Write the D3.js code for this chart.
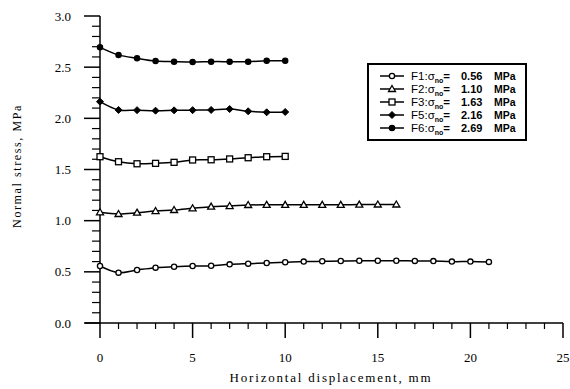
<!DOCTYPE html>
<html>
<head>
<meta charset="utf-8">
<script src="https://cdn.jsdelivr.net/npm/d3@7"></script>
<style>
  body { margin: 0; background: #fff; }
  svg { display: block; }
</style>
</head>
<body>
<svg width="570" height="389"></svg>
<script>
// data
const xF1 = d3.range(0, 22);
const yF1 = [0.557, 0.492, 0.518, 0.541, 0.55, 0.557, 0.56, 0.573, 0.58, 0.586, 0.593,
             0.600, 0.603, 0.606, 0.608, 0.608, 0.608, 0.607, 0.605, 0.600, 0.600, 0.597];
const xF2 = d3.range(0, 17);
const yF2 = [1.082, 1.065, 1.078, 1.094, 1.104, 1.121, 1.137, 1.143, 1.153, 1.155, 1.155,
             1.155, 1.155, 1.155, 1.157, 1.158, 1.158];
const xF3 = d3.range(0, 11);
const yF3 = [1.625, 1.576, 1.556, 1.56, 1.57, 1.593, 1.595, 1.603, 1.615, 1.625, 1.628];
const xF5 = d3.range(0, 11);
const yF5 = [2.163, 2.082, 2.08, 2.075, 2.078, 2.08, 2.082, 2.091, 2.069, 2.059, 2.062];
const xF6 = d3.range(0, 11);
const yF6 = [2.694, 2.62, 2.587, 2.56, 2.554, 2.55, 2.554, 2.554, 2.554, 2.563, 2.563];

const names = ["F1", "F2", "F3", "F5", "F6"];
const sigmas = ["0.56", "1.10", "1.63", "2.16", "2.69"];
const symbols = ["openCircle", "triangle", "square", "diamond", "filledCircle"];

const xTicks = [0, 5, 10, 15, 20, 25];
const yTicks = [0.0, 0.5, 1.0, 1.5, 2.0, 2.5, 3.0];

const series = [
  {xs: xF1, ys: yF1}, {xs: xF2, ys: yF2}, {xs: xF3, ys: yF3},
  {xs: xF5, ys: yF5}, {xs: xF6, ys: yF6}
];

let svg = d3.select("svg");
let g = svg.append("g");

let x = d3.scaleLinear().domain([0, 25]).range([100, 563]);
let y = d3.scaleLinear().domain([0, 3]).range([323, 16]);

const serif = "'Liberation Serif', 'DejaVu Serif', serif";
const sans = "'Liberation Sans', Arial, sans-serif";

// x axis
g.append("line").attr("x1", 85).attr("x2", x(25))
  .attr("y1", y(0)).attr("y2", y(0)).attr("stroke", "#000").attr("stroke-width", 1.5);
d3.range(0, 26).forEach(function(v) {
  let major = v % 5 === 0;
  g.append("line").attr("x1", x(v)).attr("x2", x(v))
    .attr("y1", y(0)).attr("y2", y(0) + (major ? 15 : 6))
    .attr("stroke", "#000").attr("stroke-width", major ? 1.5 : 1.2);
});
xTicks.forEach(function(v) {
  g.append("text").attr("x", x(v)).attr("y", 362)
    .attr("text-anchor", "middle")
    .style("font-family", serif).style("font-size", "13px")
    .text(v);
});

// y axis
g.append("line").attr("x1", x(0)).attr("x2", x(0))
  .attr("y1", y(3)).attr("y2", y(0)).attr("stroke", "#000").attr("stroke-width", 1.5);
d3.range(0, 31).forEach(function(i) {
  let v = i / 10;
  let major = i % 5 === 0;
  g.append("line").attr("x1", x(0) - (major ? 16 : 8)).attr("x2", x(0))
    .attr("y1", y(v)).attr("y2", y(v))
    .attr("stroke", "#000").attr("stroke-width", major ? 1.5 : 1.2);
});
yTicks.forEach(function(v) {
  g.append("text").attr("x", 71).attr("y", y(v)).attr("dy", "0.35em")
    .attr("text-anchor", "end")
    .style("font-family", serif).style("font-size", "13px")
    .text(v.toFixed(1));
});

// axis titles
g.append("text").attr("x", 331).attr("y", 382)
  .attr("text-anchor", "middle")
  .style("font-family", serif).style("font-size", "13px")
  .style("letter-spacing", "1.8px")
  .text("Horizontal displacement, mm");
g.append("text").attr("transform", "translate(21,166) rotate(-90)")
  .attr("text-anchor", "middle")
  .style("font-family", serif).style("font-size", "12px")
  .style("letter-spacing", "1.6px")
  .text("Normal stress, MPa");

// curves
let curvy = d3.line()
  .x(function(d) { return x(d[0]); })
  .y(function(d) { return y(d[1]); })
  .curve(d3.curveCatmullRom.alpha(0.5));

function drawSymbol(sel, kind, cx, cy) {
  if (kind === "openCircle" || kind === "filledCircle") {
    sel.append("circle").attr("cx", cx).attr("cy", cy).attr("r", 2.6)
      .attr("fill", kind === "filledCircle" ? "#000" : "#fff")
      .attr("stroke", "#000").attr("stroke-width", 1.3);
  } else if (kind === "square") {
    sel.append("rect").attr("x", cx - 3).attr("y", cy - 3)
      .attr("width", 6).attr("height", 6)
      .attr("fill", "#fff").attr("stroke", "#000").attr("stroke-width", 1.3);
  } else if (kind === "triangle") {
    sel.append("path")
      .attr("d", "M" + cx + "," + (cy - 3.5) + "L" + (cx + 3.5) + "," + (cy + 2.5) + "L" + (cx - 3.5) + "," + (cy + 2.5) + "Z")
      .attr("fill", "#fff").attr("stroke", "#000").attr("stroke-width", 1.3);
  } else if (kind === "diamond") {
    sel.append("path")
      .attr("d", "M" + cx + "," + (cy - 3.5) + "L" + (cx + 3.5) + "," + cy + "L" + cx + "," + (cy + 3.5) + "L" + (cx - 3.5) + "," + cy + "Z")
      .attr("fill", "#000").attr("stroke", "#000").attr("stroke-width", 1);
  }
}

series.forEach(function(s, i) {
  let pts = s.xs.map(function(v, j) { return [v, s.ys[j]]; });
  g.append("path").attr("d", curvy(pts))
    .style("fill", "none").style("stroke", "#000").style("stroke-width", "1.5px");
  pts.forEach(function(p) {
    drawSymbol(g, symbols[i], x(p[0]), y(p[1]));
  });
});

// legend
let lg = g.append("g");
lg.append("rect").attr("x", 368).attr("y", 64).attr("width", 158).attr("height", 76)
  .attr("fill", "#fff").attr("stroke", "#000").attr("stroke-width", 2);
names.forEach(function(n, i) {
  let ly = 76 + i * 13;
  lg.append("line").attr("x1", 380).attr("x2", 404).attr("y1", ly).attr("y2", ly)
    .attr("stroke", "#000").attr("stroke-width", 1.5);
  drawSymbol(lg, symbols[i], 392, ly);
  let t = lg.append("text").attr("x", 411).attr("y", ly).attr("dy", "0.35em")
    .style("font-family", sans).style("font-size", "11.5px");
  t.append("tspan").text(n + ":");
  t.append("tspan").text("\u03c3");
  t.append("tspan").attr("dy", "3").style("font-size", "7px").style("font-weight", "bold").text("no");
  t.append("tspan").attr("dy", "-3").style("font-weight", "bold").text("=");
  lg.append("text").attr("x", 461).attr("y", ly).attr("dy", "0.35em")
    .style("font-family", sans).style("font-size", "11px")
    .style("font-weight", "bold")
    .text(sigmas[i]);
  lg.append("text").attr("x", 494).attr("y", ly).attr("dy", "0.35em")
    .style("font-family", sans).style("font-size", "10.5px")
    .style("font-weight", "bold")
    .text("MPa");
});
</script>
</body>
</html>
